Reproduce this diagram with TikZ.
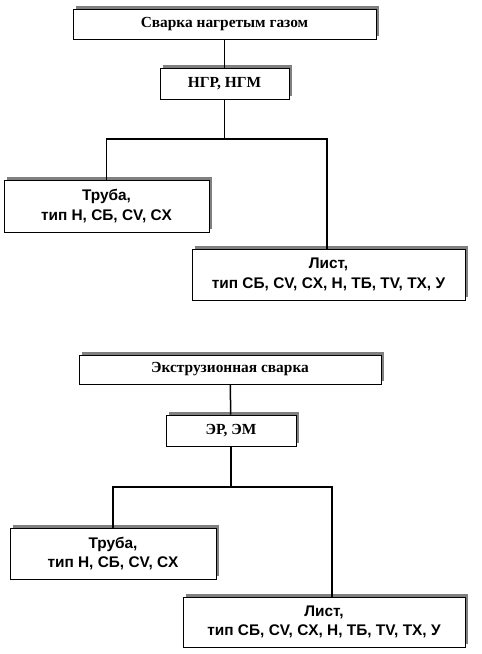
\documentclass[tikz,border=0pt]{standalone}
\usepackage{fontspec}
\setmainfont{Liberation Serif}
\setsansfont{Liberation Sans}
\usetikzlibrary{shadows}
\tikzset{
	head/.style={
			draw=black, fill=white, line width=0.9pt, inner sep=0pt,
			font=\fontsize{15.4}{17}\selectfont\bfseries,
			general shadow={shadow xshift=3pt, shadow yshift=3pt, fill=black!50}
		},
	leaf/.style={
			head, align=center,
			font=\fontsize{15.4}{19.5}\selectfont\sffamily\bfseries
		},
	link/.style={black, line width=1.5pt}
}

\begin{document}
\begin{tikzpicture}[x=1pt, y=-1pt]
		\useasboundingbox (0,0) rectangle (482,654);

		% Сварка нагретым газом
		\node [head, minimum width=303pt, minimum height=30pt]	(gas) at (224.5, 24) {Сварка нагретым газом};
		\node [head, minimum width=129pt, minimum height=31pt]	(ngr) at (224.5, 83.5) {НГР, НГМ};
		\node [leaf, minimum width=205pt, minimum height=52pt]	(truba1) at (106.5, 206) {Труба,\\тип Н, СБ, CV, CX};
		\node [leaf, minimum width=273pt, minimum height=51pt]	(list1) at (328.5, 274.5) {Лист,\\тип СБ, CV, CX, Н, ТБ, TV, TX, У};
		\coordinate (fork1) at (224.5, 139);

		\draw [link]	(gas) to (ngr);
		\draw [link]	(ngr) to (fork1);
		\draw [link]	(fork1) -| (truba1.north);
		\draw [link]	(fork1) -| ([xshift=-1.5pt]list1.north);

		% Экструзионная сварка
		\node [head, minimum width=302pt, minimum height=29pt]	(extr) at (230, 369.5) {Экструзионная сварка};
		\node [head, minimum width=130pt, minimum height=31pt]	(er) at (231, 430.5) {ЭР, ЭМ};
		\node [leaf, minimum width=206pt, minimum height=51pt]	(truba2) at (113, 553.5) {Труба,\\тип Н, СБ, CV, CX};
		\node [leaf, minimum width=282pt, minimum height=50pt]	(list2) at (324, 622) {Лист,\\тип СБ, CV, CX, Н, ТБ, TV, TX, У};
		\coordinate (fork2) at (231, 487);

		\draw [link]	(extr) to (er);
		\draw [link]	(er) to (fork2);
		\draw [link]	(fork2) -| (truba2.north);
		\draw [link]	(fork2) -| ([xshift=8pt]list2.north);
	\end{tikzpicture}
\end{document}
